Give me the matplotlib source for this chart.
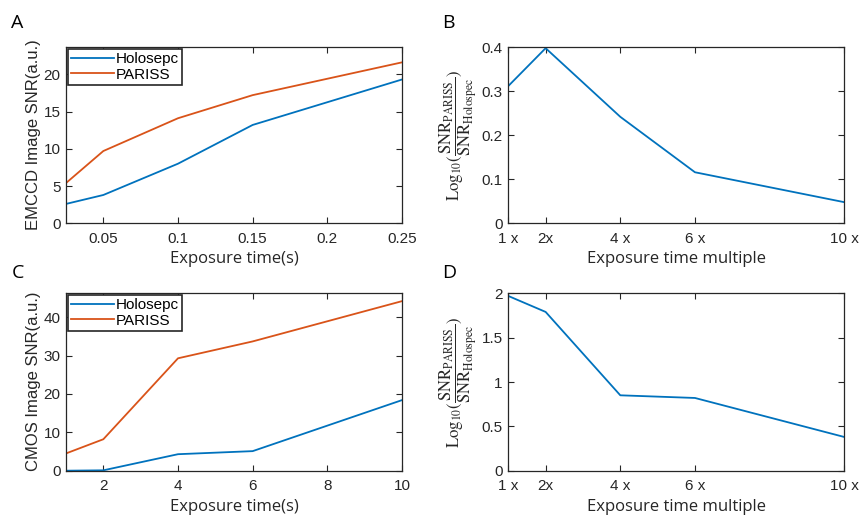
import matplotlib
matplotlib.use('Agg')
import matplotlib.pyplot as plt

BLUE = '#0072BD'
ORANGE = '#D95319'
DARK = '#262626'

# EMCCD measurements
emccd_time = [0.025, 0.05, 0.1, 0.15, 0.25]
emccd_holosepc = [2.6, 3.8, 8.0, 13.2, 19.3]
emccd_pariss = [5.4, 9.7, 14.1, 17.2, 21.6]

# CMOS measurements
cmos_time = [1, 2, 4, 6, 10]
cmos_holosepc = [0.0, 0.1, 4.3, 5.1, 18.4]
cmos_pariss = [4.5, 8.2, 29.3, 33.7, 44.2]

# log10 SNR ratio vs. exposure multiple
multiple = [1, 2, 4, 6, 10]
multiple_labels = ['1 x', '2x', '4 x', '6 x', '10 x']
emccd_log_ratio = [0.312, 0.398, 0.242, 0.116, 0.048]
cmos_log_ratio = [1.97, 1.79, 0.85, 0.82, 0.38]

plt.rcParams['font.family'] = ['Liberation Sans', 'DejaVu Sans']
plt.rcParams['mathtext.fontset'] = 'stix'
plt.rcParams['axes.edgecolor'] = DARK
plt.rcParams['axes.linewidth'] = 0.9
plt.rcParams['xtick.color'] = DARK
plt.rcParams['ytick.color'] = DARK

ratio_label = (r'$\mathrm{Log}_{10}(\dfrac{\mathrm{SNR}_{\mathrm{PARISS}}}'
               r'{\mathrm{SNR}_{\mathrm{Holospec}}})$')

fig = plt.figure(figsize=(8.61, 5.19), dpi=100)
W, H = 861, 519


def make_axes(left, top, right, bottom):
    return fig.add_axes([left / W, 1 - bottom / H, (right - left) / W, (bottom - top) / H])


def style(ax):
    ax.tick_params(direction='in', top=True, right=True, length=4, width=0.8,
                   labelsize=11)
    ax.tick_params(axis='x', pad=6)
    ax.tick_params(axis='y', pad=4)
    for s in ax.spines.values():
        s.set_color(DARK)


def label_font():
    return dict(fontsize=12, color=DARK, family=['Open Sans', 'DejaVu Sans'])


axA = make_axes(66, 46.7, 402, 223.3)
axB = make_axes(508.3, 47.3, 844.3, 223.3)
axC = make_axes(66, 292.7, 402, 470.7)
axD = make_axes(508.3, 293.3, 844.3, 470.7)

# A: EMCCD SNR
axA.plot(emccd_time, emccd_holosepc, color=BLUE, lw=1.3, label='Holosepc')
axA.plot(emccd_time, emccd_pariss, color=ORANGE, lw=1.3, label='PARISS')
axA.set_xlim(0.025, 0.25)
axA.set_ylim(0, 23.7)
axA.set_xticks([0.05, 0.1, 0.15, 0.2, 0.25])
axA.set_xticklabels(['0.05', '0.1', '0.15', '0.2', '0.25'])
axA.set_yticks([0, 5, 10, 15, 20])
axA.set_xlabel('Exposure time(s)', labelpad=4, **label_font())
axA.set_ylabel('EMCCD Image SNR(a.u.)', fontsize=12, color=DARK, labelpad=2)

# B: EMCCD log ratio
axB.plot(multiple, emccd_log_ratio, color=BLUE, lw=1.3)
axB.set_xlim(1, 10)
axB.set_ylim(0, 0.4)
axB.set_xticks(multiple)
axB.set_xticklabels(multiple_labels)
axB.set_yticks([0, 0.1, 0.2, 0.3, 0.4])
axB.set_yticklabels(['0', '0.1', '0.2', '0.3', '0.4'])
axB.set_xlabel('Exposure time multiple', labelpad=4, **label_font())
axB.set_ylabel(ratio_label, fontsize=12, color=DARK, labelpad=2)

# C: CMOS SNR
axC.plot(cmos_time, cmos_holosepc, color=BLUE, lw=1.3, label='Holosepc')
axC.plot(cmos_time, cmos_pariss, color=ORANGE, lw=1.3, label='PARISS')
axC.set_xlim(1, 10)
axC.set_ylim(0, 46.4)
axC.set_xticks([2, 4, 6, 8, 10])
axC.set_yticks([0, 10, 20, 30, 40])
axC.set_xlabel('Exposure time(s)', labelpad=4, **label_font())
axC.set_ylabel('CMOS Image SNR(a.u.)', fontsize=12, color=DARK, labelpad=2)

# D: CMOS log ratio
axD.plot(multiple, cmos_log_ratio, color=BLUE, lw=1.3)
axD.set_xlim(1, 10)
axD.set_ylim(0, 2)
axD.set_xticks(multiple)
axD.set_xticklabels(multiple_labels)
axD.set_yticks([0, 0.5, 1, 1.5, 2])
axD.set_yticklabels(['0', '0.5', '1', '1.5', '2'])
axD.set_xlabel('Exposure time multiple', labelpad=4, **label_font())
axD.set_ylabel(ratio_label, fontsize=12, color=DARK, labelpad=2)

for ax in (axA, axB, axC, axD):
    style(ax)

for ax in (axA, axC):
    leg = ax.legend(loc='upper left', bbox_to_anchor=(0, 1), fontsize=11,
                    handlelength=2.8, handletextpad=0.1, borderpad=0.2,
                    borderaxespad=0.15, labelspacing=0.1, fancybox=False,
                    framealpha=1, edgecolor=DARK)
    leg.get_frame().set_linewidth(1.2)

# panel letters
for letter, x, y in (('A', 11, 28.3), ('B', 442.5, 28.3), ('C', 12, 278.3), ('D', 442.5, 278.3)):
    fig.text(x / W, 1 - y / H, letter, fontsize=14, color='black', va='baseline',
             family=['Open Sans', 'DejaVu Sans'])

fig.savefig('out.png', dpi=100)
